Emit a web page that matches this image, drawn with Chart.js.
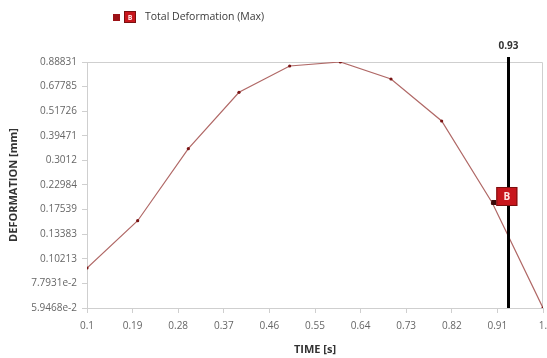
<!DOCTYPE html>
<html>
<head>
<meta charset="utf-8">
<title>Total Deformation (Max)</title>
<script src="https://cdn.jsdelivr.net/npm/chart.js@4.4.1/dist/chart.umd.min.js"></script>
<style>
  html, body { margin: 0; padding: 0; background: #fff; }
  #chart { display: block; }
</style>
</head>
<body>
<canvas id="chart" width="547" height="358"></canvas>
<script>
// time steps [s] and max total deformation [mm]
const times = [0.1, 0.2, 0.3, 0.4, 0.5, 0.6, 0.7, 0.8, 0.9, 1.0];
const deformation = [0.0923, 0.1552, 0.3425, 0.6367, 0.850, 0.88831, 0.7368, 0.4644, 0.1886, 0.059468];

const xTicks = [0.1, 0.19, 0.28, 0.37, 0.46, 0.55, 0.64, 0.73, 0.82, 0.91, 1.0];
const xTickLabels = ["0.1", "0.19", "0.28", "0.37", "0.46", "0.55", "0.64", "0.73", "0.82", "0.91", "1."];
const yTicks = [0.059468, 0.077931, 0.10213, 0.13383, 0.17539, 0.22984, 0.3012, 0.39471, 0.51726, 0.67785, 0.88831];
const yTickLabels = ["5.9468e-2", "7.7931e-2", "0.10213", "0.13383", "0.17539", "0.22984", "0.3012", "0.39471", "0.51726", "0.67785", "0.88831"];

const probeTime = 0.93;
const probeIndex = 8;
const seriesName = "Total Deformation (Max)";

const FONT = "'Open Sans', 'Noto Sans', sans-serif";
const AXIS_GRAY = "#cfcfcf";

// red "B" tag used in the legend and on the curve
function drawTag(ctx, x, y, w, h, size) {
    ctx.fillStyle = "#c8161d";
    ctx.fillRect(x, y, w, h);
    ctx.strokeStyle = "#7a1010";
    ctx.lineWidth = 1;
    ctx.strokeRect(x + 0.5, y + 0.5, w - 1, h - 1);
    ctx.fillStyle = "#ffe6e6";
    ctx.font = "bold " + size + "px " + FONT;
    ctx.textAlign = "center";
    ctx.textBaseline = "middle";
    ctx.fillText("B", x + w / 2, y + h / 2 + 0.5);
}

const decorations = {
    id: "decorations",
    beforeDatasetsDraw(chart) {
        let ctx = chart.ctx;
        let a = chart.chartArea;
        ctx.save();
        ctx.strokeStyle = AXIS_GRAY;
        ctx.lineWidth = 1;
        ctx.beginPath();
        ctx.moveTo(a.left, a.top + 0.5);
        ctx.lineTo(a.right - 0.5, a.top + 0.5);
        ctx.lineTo(a.right - 0.5, a.bottom);
        ctx.stroke();
        ctx.restore();
    },
    afterDatasetsDraw(chart) {
        let ctx = chart.ctx;
        let a = chart.chartArea;
        let xs = chart.scales.x;
        let ys = chart.scales.y;
        ctx.save();

        // probe line
        let px = Math.round(xs.getPixelForValue(probeTime)) + 0.5;
        ctx.strokeStyle = "#000";
        ctx.lineWidth = 3;
        ctx.beginPath();
        ctx.moveTo(px, a.top - 5);
        ctx.lineTo(px, a.bottom);
        ctx.stroke();
        ctx.fillStyle = "#333";
        ctx.font = "bold 10px " + FONT;
        ctx.textAlign = "center";
        ctx.textBaseline = "middle";
        ctx.fillText(String(probeTime), px, a.top - 16);

        // tag on the curve
        let mx = xs.getPixelForValue(times[probeIndex]);
        let my = ys.getPixelForValue(deformation[probeIndex]);
        ctx.fillStyle = "#3a0a0a";
        ctx.fillRect(mx - 1, my - 3, 5, 5);
        drawTag(ctx, mx + 4, my - 16, 21, 19, 10);

        // legend
        ctx.fillStyle = "#9c1217";
        ctx.fillRect(113, 14, 7, 7);
        drawTag(ctx, 124, 11, 12, 12, 7);
        ctx.fillStyle = "#3a3a3a";
        ctx.font = "10.5px " + FONT;
        ctx.textAlign = "left";
        ctx.textBaseline = "middle";
        ctx.fillText(seriesName, 145, 17.5);
        ctx.restore();
    }
};

new Chart(document.getElementById("chart"), {
    type: "line",
    data: {
        datasets: [{
            label: seriesName,
            data: times.map((t, i) => ({ x: t, y: deformation[i] })),
            borderColor: "#b06866",
            borderWidth: 1.2,
            pointRadius: 1.6,
            pointBackgroundColor: "#7a1414",
            pointBorderWidth: 0,
            tension: 0
        }]
    },
    options: {
        responsive: false,
        animation: false,
        devicePixelRatio: 1,
        layout: { padding: { top: 62, right: 2, left: 0, bottom: 0 } },
        plugins: {
            legend: { display: false },
            tooltip: { enabled: false }
        },
        scales: {
            x: {
                type: "linear",
                min: 0.1,
                max: 1.0,
                afterBuildTicks: scale => { scale.ticks = xTicks.map(v => ({ value: v })); },
                afterFit: scale => {
                    scale.height = 50;
                    scale.paddingLeft = 0;
                    scale.paddingRight = 0;
                },
                ticks: {
                    autoSkip: false,
                    maxRotation: 0,
                    padding: 7,
                    color: "#666",
                    font: { family: FONT, size: 10 },
                    callback: (v, i) => xTickLabels[i]
                },
                grid: { drawOnChartArea: false, drawTicks: true, tickLength: 5, color: AXIS_GRAY },
                border: { display: true, color: AXIS_GRAY },
                title: {
                    display: true,
                    text: "TIME [s]",
                    color: "#333",
                    font: { family: FONT, size: 11, weight: "bold" },
                    padding: { top: 0, bottom: 2 }
                }
            },
            y: {
                type: "logarithmic",
                min: yTicks[0],
                max: yTicks[yTicks.length - 1],
                afterBuildTicks: scale => { scale.ticks = yTicks.map(v => ({ value: v })); },
                afterFit: scale => {
                    scale.width = 87;
                    scale.paddingTop = 0;
                    scale.paddingBottom = 0;
                },
                ticks: {
                    autoSkip: false,
                    padding: 5,
                    color: "#666",
                    font: { family: FONT, size: 10 },
                    callback: (v, i) => yTickLabels[i]
                },
                grid: { drawOnChartArea: false, drawTicks: true, tickLength: 5, color: AXIS_GRAY },
                border: { display: true, color: AXIS_GRAY },
                title: {
                    display: true,
                    text: "DEFORMATION [mm]",
                    color: "#333",
                    font: { family: FONT, size: 11, weight: "bold" },
                    padding: { top: 7, bottom: 0 }
                }
            }
        }
    },
    plugins: [decorations]
});
</script>
</body>
</html>
